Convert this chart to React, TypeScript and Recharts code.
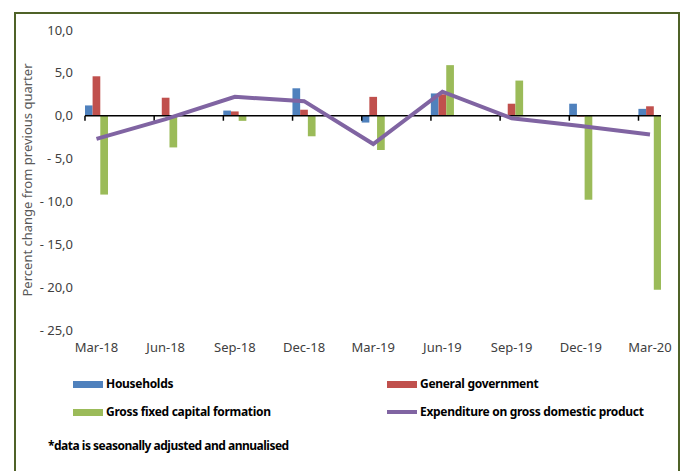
import React from "react";
import { ComposedChart, Bar, Line, XAxis, YAxis, ReferenceLine, Legend } from "recharts";

const quarters = ["Mar-18", "Jun-18", "Sep-18", "Dec-18", "Mar-19", "Jun-19", "Sep-19", "Dec-19", "Mar-20"];
const households = [1.2, 0, 0.6, 3.2, -0.8, 2.6, 0, 1.4, 0.8];
const government = [4.6, 2.1, 0.5, 0.7, 2.2, 2.5, 1.4, -0.1, 1.1];
const gfcf = [-9.2, -3.7, -0.6, -2.4, -4.0, 5.9, 4.1, -9.8, -20.3];
const gdp = [-2.7, -0.4, 2.2, 1.7, -3.3, 2.8, -0.3, -1.2, -2.2];
const yTicks = [-25, -20, -15, -10, -5, 0, 5, 10];
const seriesNames = ["Households", "General government", "Gross fixed capital formation", "Expenditure on gross domestic product"];

const data = quarters.map((q, i) => ({
  idx: i,
  quarter: q,
  households: households[i],
  government: government[i],
  gfcf: gfcf[i],
  gdp: gdp[i],
}));

const FONT = "'Noto Sans', 'Open Sans', sans-serif";

const fmtY = (v: number) => {
  const s = Math.abs(v).toFixed(1).replace(".", ",");
  return v < 0 ? `- ${s}` : s;
};

const AxisTitle = (props: any) => {
  const { viewBox } = props;
  const cy = viewBox.y + viewBox.height / 2;
  return (
    <text
      x={32}
      y={cy}
      transform={`rotate(-90 32 ${cy})`}
      textAnchor="middle"
      fill="#595959"
      fontSize={13}
      fontFamily={FONT}
    >
      Percent change from previous quarter
    </text>
  );
};

// Excel puts the small ticks at the left edge of each bar group
const TickMark = (p: any) => (
  <line x1={p.x1 - 11.5} y1={p.y1} x2={p.x1 - 11.5} y2={p.y1 + 5} stroke="#000" strokeWidth={1.5} />
);

const LegendContent = (props: any) => {
  const payload = [...(props.payload || [])].sort(
    (a: any, b: any) => seriesNames.indexOf(a.value) - seriesNames.indexOf(b.value)
  );
  return (
    <div style={{ position: "relative", width: 687, height: 100, fontFamily: FONT, fontWeight: 700, fontSize: 12, color: "#000" }}>
      {payload.map((entry: any, i: number) => {
        const col = i % 2;
        const row = Math.floor(i / 2);
        const cy = 24 + row * 28;
        const isLine = entry.type === "line";
        const sw = col === 0 ? 73 : 387;
        const h = isLine ? 4 : 7;
        return (
          <React.Fragment key={entry.value}>
            <div style={{ position: "absolute", left: sw, top: cy - h / 2, width: 30, height: h, background: entry.color }} />
            <div style={{ position: "absolute", left: sw + 33, top: cy - 9, lineHeight: "18px", letterSpacing: -0.3, whiteSpace: "nowrap" }}>
              {entry.value}
            </div>
          </React.Fragment>
        );
      })}
      <div style={{ position: "absolute", left: 48, top: 77, lineHeight: "18px", letterSpacing: -0.5, whiteSpace: "nowrap" }}>
        *data is seasonally adjusted and annualised
      </div>
    </div>
  );
};

export default function App() {
  return (
    <div style={{ position: "absolute", left: 0, top: 0, width: 687, height: 471, background: "#fff", overflow: "hidden" }}>
      <div
        style={{
          position: "absolute",
          left: 14,
          top: 12,
          width: 666,
          height: 480,
          boxSizing: "border-box",
          border: "2px solid #4F6228",
        }}
      />
      <div style={{ position: "absolute", left: 0, top: 0 }}>
        <ComposedChart
          width={687}
          height={471}
          data={data}
          margin={{ top: 30, right: 26, bottom: 11, left: 25 }}
          barGap={0}
        >
          <XAxis
            type="number"
            dataKey="idx"
            domain={[-0.166, 8.159]}
            ticks={[0, 1, 2, 3, 4, 5, 6, 7, 8]}
            tickFormatter={(i: number) => quarters[i]}
            axisLine={false}
            tickLine={false}
            tickSize={0}
            tickMargin={13}
            height={30}
            interval={0}
            allowDataOverflow
            tick={{ fill: "#404040", fontSize: 13, fontFamily: FONT }}
          />
          <YAxis
            domain={[-25, 10]}
            ticks={yTicks}
            tickFormatter={fmtY}
            axisLine={false}
            tickLine={false}
            tickSize={0}
            tickMargin={12}
            width={60}
            interval={0}
            tick={{ fill: "#404040", fontSize: 13, fontFamily: FONT }}
            label={<AxisTitle />}
          />
          <Bar dataKey="households" name="Households" fill="#4F81BD" barSize={7.7} legendType="rect" isAnimationActive={false} />
          <Bar dataKey="government" name="General government" fill="#C0504D" barSize={7.7} legendType="rect" isAnimationActive={false} />
          <Bar dataKey="gfcf" name="Gross fixed capital formation" fill="#9BBB59" barSize={7.7} legendType="rect" isAnimationActive={false} />
          <ReferenceLine y={0} stroke="#000" strokeWidth={1.5} />
          {quarters.map((q, i) => (
            <ReferenceLine
              key={q}
              segment={[
                { x: i, y: 0 },
                { x: i, y: -1 },
              ]}
              shape={TickMark}
            />
          ))}
          <Line
            type="linear"
            dataKey="gdp"
            name="Expenditure on gross domestic product"
            stroke="#8064A2"
            strokeWidth={4}
            dot={false}
            legendType="line"
            isAnimationActive={false}
          />
          <Legend verticalAlign="bottom" height={100} wrapperStyle={{ left: 0, width: 687, bottom: 11 }} content={<LegendContent />} />
        </ComposedChart>
      </div>
    </div>
  );
}
